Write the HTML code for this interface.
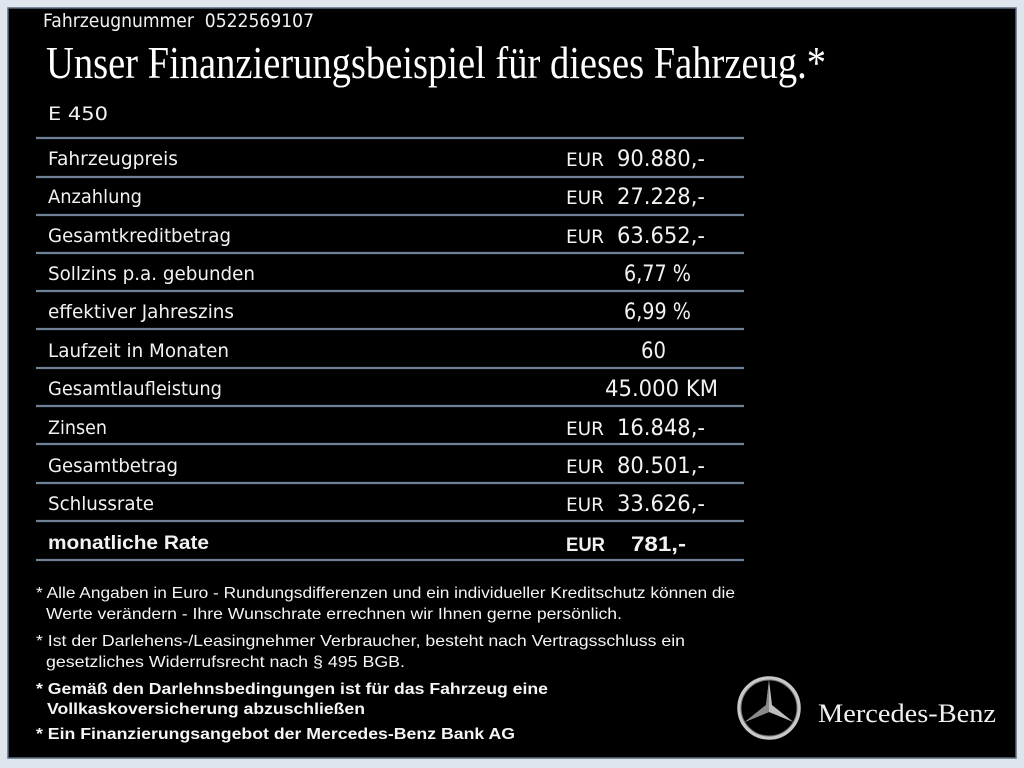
<!DOCTYPE html>
<html><head><meta charset="utf-8"><style>
html,body{margin:0;padding:0;width:1024px;height:768px;overflow:hidden;background:#dfe5ec;}
svg{display:block}
.s{font-family:"DejaVu Sans","Liberation Sans",sans-serif;fill:#f2f2f2;font-size:19px}
.f{font-family:"Liberation Sans",sans-serif;fill:#f5f5f5;font-size:16px}
.b{font-weight:bold}
</style></head><body>
<svg width="1024" height="768" viewBox="0 0 1024 768" xmlns="http://www.w3.org/2000/svg">
<rect x="0" y="0" width="1024" height="768" fill="#dfe5ec"/>
<rect x="8" y="8" width="1008" height="750" fill="#000"/>
<rect x="8" y="8" width="1008" height="750" fill="none" stroke="#5a6c80" stroke-width="1.5"/>
<text class="s" x="43" y="27" font-size="18" textLength="271" lengthAdjust="spacingAndGlyphs">Fahrzeugnummer&#160;&#160;0522569107</text>
<text x="46" y="78" font-family="'Liberation Serif',serif" font-size="46" fill="#fff" textLength="780" lengthAdjust="spacingAndGlyphs">Unser Finanzierungsbeispiel für dieses Fahrzeug.*</text>
<text class="s" x="48" y="120" font-size="23" textLength="60" lengthAdjust="spacingAndGlyphs">E 450</text>
<g stroke="#6f8196" stroke-width="2.2">
<line x1="36" y1="138" x2="744" y2="138"/><line x1="36" y1="177" x2="744" y2="177"/>
<line x1="36" y1="215" x2="744" y2="215"/><line x1="36" y1="253" x2="744" y2="253"/>
<line x1="36" y1="291" x2="744" y2="291"/><line x1="36" y1="329" x2="744" y2="329"/>
<line x1="36" y1="368" x2="744" y2="368"/><line x1="36" y1="406" x2="744" y2="406"/>
<line x1="36" y1="444" x2="744" y2="444"/><line x1="36" y1="483" x2="744" y2="483"/>
<line x1="36" y1="521" x2="744" y2="521"/><line x1="36" y1="560" x2="744" y2="560"/>
</g>
<g class="s">
<text x="48" y="165" textLength="130" lengthAdjust="spacingAndGlyphs">Fahrzeugpreis</text>
<text x="48" y="203" textLength="94" lengthAdjust="spacingAndGlyphs">Anzahlung</text>
<text x="48" y="242" textLength="183" lengthAdjust="spacingAndGlyphs">Gesamtkreditbetrag</text>
<text x="48" y="280" textLength="207" lengthAdjust="spacingAndGlyphs">Sollzins p.a. gebunden</text>
<text x="48" y="318" textLength="186" lengthAdjust="spacingAndGlyphs">effektiver Jahreszins</text>
<text x="48" y="357" textLength="181" lengthAdjust="spacingAndGlyphs">Laufzeit in Monaten</text>
<text x="48" y="395" textLength="174" lengthAdjust="spacingAndGlyphs">Gesamtlaufleistung</text>
<text x="48" y="434" textLength="59" lengthAdjust="spacingAndGlyphs">Zinsen</text>
<text x="48" y="472" textLength="130" lengthAdjust="spacingAndGlyphs">Gesamtbetrag</text>
<text x="48" y="510" textLength="106" lengthAdjust="spacingAndGlyphs">Schlussrate</text>
<text x="48" y="549" class="b" font-family="'Liberation Sans',sans-serif" textLength="161" lengthAdjust="spacingAndGlyphs">monatliche Rate</text>

<text x="566" y="166" textLength="38" lengthAdjust="spacingAndGlyphs">EUR</text>
<text x="617" y="166" font-size="22" textLength="88" lengthAdjust="spacingAndGlyphs">90.880,-</text>
<text x="566" y="204" textLength="38" lengthAdjust="spacingAndGlyphs">EUR</text>
<text x="617" y="204" font-size="22" textLength="88" lengthAdjust="spacingAndGlyphs">27.228,-</text>
<text x="566" y="243" textLength="38" lengthAdjust="spacingAndGlyphs">EUR</text>
<text x="617" y="243" font-size="22" textLength="88" lengthAdjust="spacingAndGlyphs">63.652,-</text>
<text x="624" y="281" font-size="22" textLength="67" lengthAdjust="spacingAndGlyphs">6,77 %</text>
<text x="624" y="319" font-size="22" textLength="67" lengthAdjust="spacingAndGlyphs">6,99 %</text>
<text x="641" y="358" font-size="22" textLength="25" lengthAdjust="spacingAndGlyphs">60</text>
<text x="605" y="396" font-size="22" textLength="113" lengthAdjust="spacingAndGlyphs">45.000 KM</text>
<text x="566" y="435" textLength="38" lengthAdjust="spacingAndGlyphs">EUR</text>
<text x="617" y="435" font-size="22" textLength="88" lengthAdjust="spacingAndGlyphs">16.848,-</text>
<text x="566" y="473" textLength="38" lengthAdjust="spacingAndGlyphs">EUR</text>
<text x="617" y="473" font-size="22" textLength="88" lengthAdjust="spacingAndGlyphs">80.501,-</text>
<text x="566" y="511" textLength="38" lengthAdjust="spacingAndGlyphs">EUR</text>
<text x="617" y="511" font-size="22" textLength="88" lengthAdjust="spacingAndGlyphs">33.626,-</text>
<text x="566" y="551" class="b" font-family="'Liberation Sans',sans-serif" textLength="39" lengthAdjust="spacingAndGlyphs">EUR</text>
<text x="631" y="551" class="b" font-family="'Liberation Sans',sans-serif" font-size="21" textLength="55" lengthAdjust="spacingAndGlyphs">781,-</text>
</g>
<g class="f">
<text x="36" y="598" textLength="699" lengthAdjust="spacingAndGlyphs">* Alle Angaben in Euro - Rundungsdifferenzen und ein individueller Kreditschutz können die</text>
<text x="46" y="619" textLength="576" lengthAdjust="spacingAndGlyphs">Werte verändern - Ihre Wunschrate errechnen wir Ihnen gerne persönlich.</text>
<text x="36" y="646" textLength="649" lengthAdjust="spacingAndGlyphs">* Ist der Darlehens-/Leasingnehmer Verbraucher, besteht nach Vertragsschluss ein</text>
<text x="46" y="667" textLength="359" lengthAdjust="spacingAndGlyphs">gesetzliches  Widerrufsrecht nach § 495 BGB.</text>
<text x="36" y="694" class="b" textLength="512" lengthAdjust="spacingAndGlyphs">* Gemäß den Darlehnsbedingungen ist für das Fahrzeug eine</text>
<text x="47" y="714" class="b" textLength="318" lengthAdjust="spacingAndGlyphs">Vollkaskoversicherung abzuschließen</text>
<text x="36" y="739" class="b" textLength="479" lengthAdjust="spacingAndGlyphs">* Ein Finanzierungsangebot der Mercedes-Benz Bank AG</text>
</g>
<g transform="translate(769,708)">
<circle r="30" fill="none" stroke="#c8c8c8" stroke-width="3.5"/>
<circle r="28" fill="none" stroke="#777" stroke-width="1"/>
<polygon points="0,-28 3,-3 24.2,14 0,4 -24.2,14 -3,-3" fill="#bdbdbd"/>
<polygon points="0,-28 0,4 -24.2,14 -3,-3" fill="#8a8a8a"/>
</g>
<text x="818" y="722" font-family="'Liberation Serif',serif" font-size="26" fill="#f0f0f0" textLength="178" lengthAdjust="spacingAndGlyphs">Mercedes-Benz</text>
</svg>
</body></html>
